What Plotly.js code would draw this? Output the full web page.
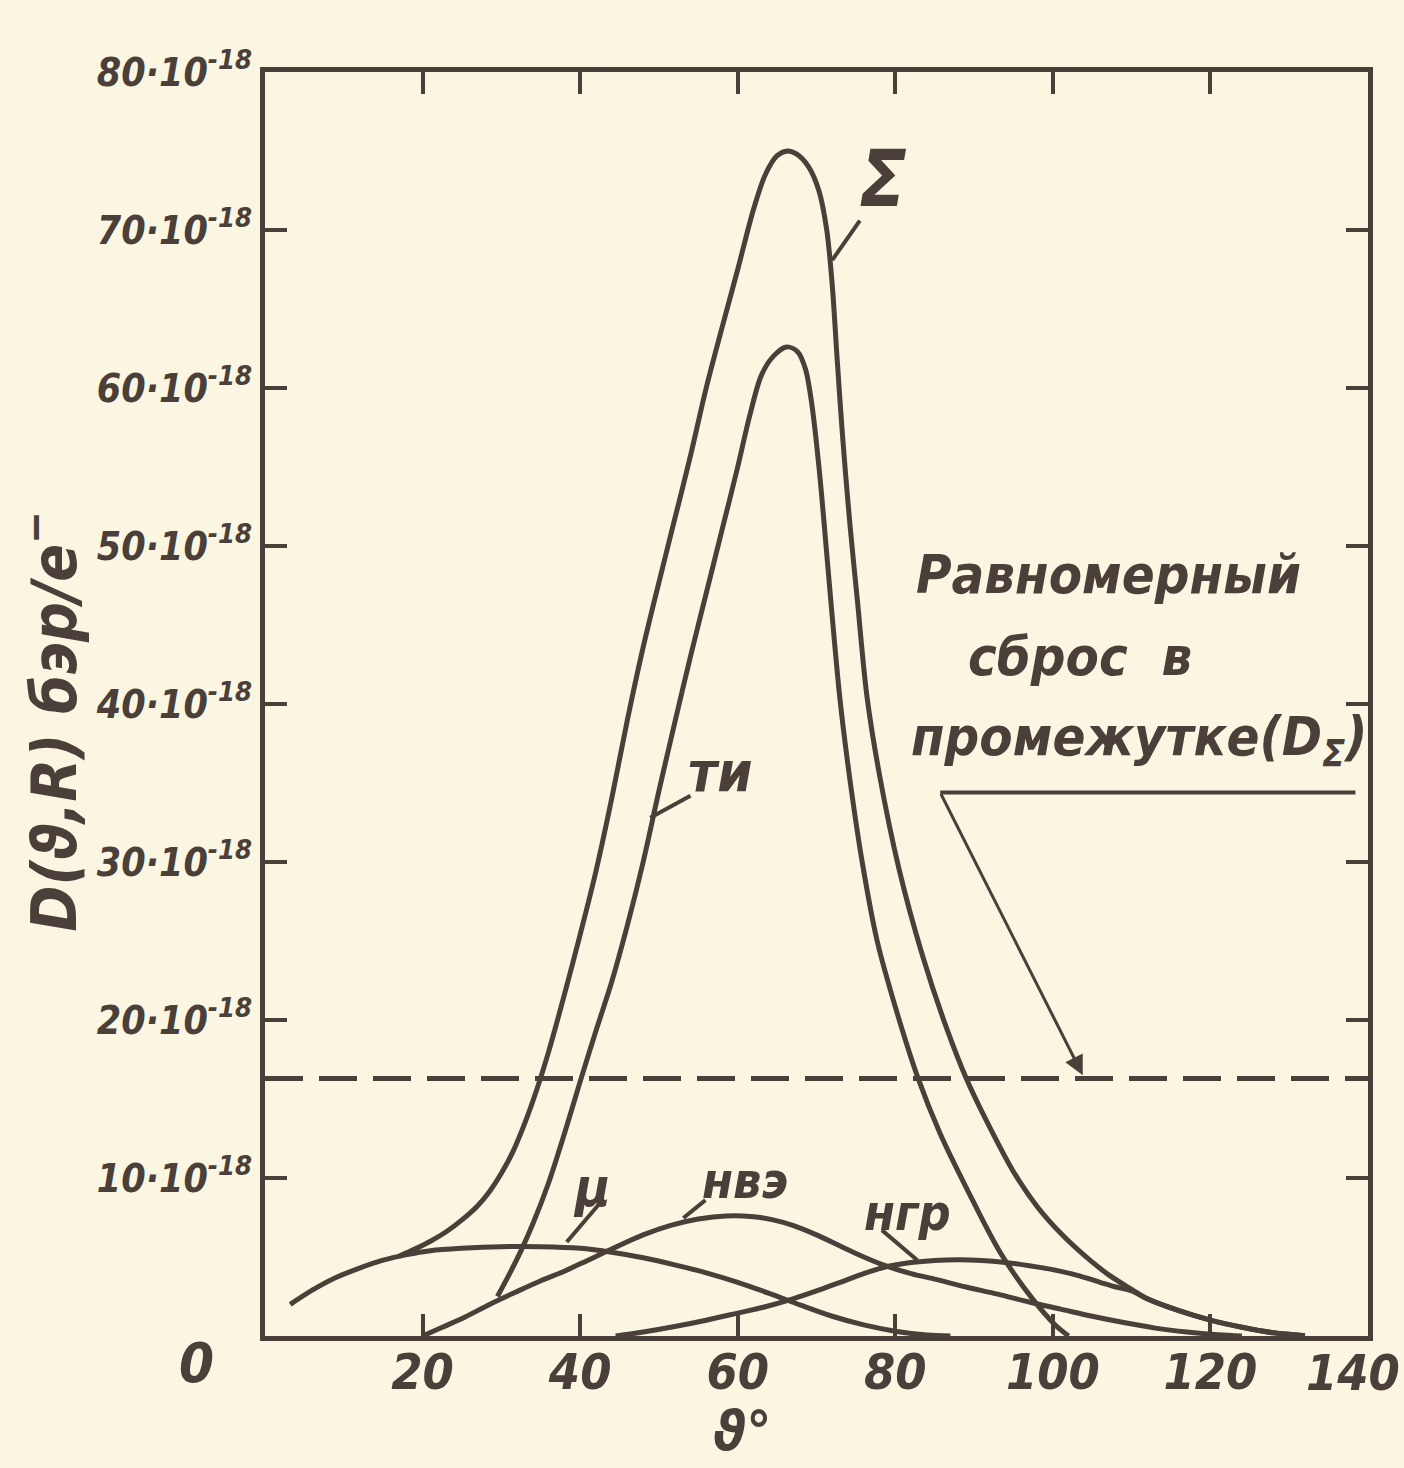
<!DOCTYPE html>
<html>
<head>
<meta charset="utf-8">
<script src="https://cdn.plot.ly/plotly-3.0.1.min.js"></script>
<style>
html,body{margin:0;padding:0;background:#FBF6E1;}
#chart{width:1404px;height:1468px;}
</style>
</head>
<body>
<div id="chart"></div>
<script>
// ---- data (angle θ in degrees, dose in units of 1e-18 бэр/e-) ----
const sigmaTheta = [17,19,21,23,25,27,28.5,30,31.5,33,34.5,36,38,40,42,44,46,48,50,52,54,56,58,60,62,63.5,65,66.3,67.5,69,70.3,71.3,72,72.6,73.3,74.2,75.2,76.4,78,80.5,83.5,86.5,89.1,92,95,98,101,104,107,110,112,116,120,124,128,132];
const sigmaDose  = [5.05,5.5,6.0,6.6,7.35,8.25,9.15,10.3,11.7,13.5,15.6,18.0,21.6,25.4,29.4,34.0,39.0,43.6,47.7,51.7,55.7,60.0,63.8,67.5,71.3,73.5,74.7,75.0,74.8,74.0,72.5,70.0,66.5,62.0,57.0,51.6,46.5,40.5,35.5,29.5,24.0,19.5,16.2,13.2,10.4,8.2,6.5,5.1,3.9,2.95,2.35,1.6,1.0,0.55,0.2,0.02];

const tiTheta = [29.5,31,32.5,34,36,38,40,42,44,46,48,50,52,54,56,58,60,61.5,63,64.5,66.2,67.6,68.6,69.4,70,70.6,71.3,72,73,74.3,75.8,77.7,80.2,82.9,85.7,89.1,93.3,97.5,100.3,102];
const tiDose  = [2.5,3.9,5.4,7.1,9.7,12.8,16.1,19.3,22.4,26.0,30.0,34.5,38.8,43.0,47.0,51.0,55.0,58.2,60.8,62.0,62.6,62.3,61.2,59.0,56.5,53.5,49.5,45.5,40.2,35.0,30.0,25.0,20.5,16.3,12.8,9.3,5.3,2.3,0.7,0];

const muTheta = [3.2,6,9,12,15,18,21,25,30,35,40,44,48,52,56,60,64,68,72,76,80,84,87];
const muDose  = [2.0,2.9,3.7,4.3,4.8,5.15,5.4,5.55,5.65,5.65,5.55,5.3,4.95,4.5,4.0,3.4,2.7,1.95,1.25,0.7,0.3,0.06,0];

const nveTheta = [20,22.5,25.4,28.5,31.7,35,38,41,44.4,48,51.5,55,58.5,62,64.5,67,70,73,76,79,82,85,89,93,97,101,105,109,113,117,121,124];
const nveDose  = [0,0.55,1.2,2.0,2.75,3.5,4.1,4.8,5.6,6.4,7.0,7.4,7.6,7.55,7.35,7.0,6.4,5.7,5.0,4.4,3.95,3.6,3.1,2.65,2.15,1.7,1.25,0.85,0.5,0.25,0.08,0];

const ngrTheta = [44.5,48,52,56,60,63.5,67,70,73,76,79,82,85,88,91,94,97,100,103,106,108,110,112,116,120,124,128,132];
const ngrDose  = [0,0.25,0.6,1.0,1.45,1.85,2.35,2.85,3.4,3.95,4.4,4.65,4.78,4.82,4.78,4.65,4.45,4.2,3.85,3.4,3.1,2.85,2.35,1.6,1.0,0.55,0.2,0.02];

const uniformDose = 16.3;           // равномерный сброс D_Σ
const uniformTheta = [0, 140];

const xTickVals = [20,40,60,80,100,120,140];
const xTickText = ["20","40","60","80","100","120","140"];
const yTickVals = [10,20,30,40,50,60,70,80];
const yTickText = yTickVals.map(v => v + "·10<sup>-18</sup>");

// ---- style ----
const INK = "#4a3f39";
const BG = "#FBF6E1";
const FONT = "'DejaVu Sans Condensed', 'DejaVu Sans', sans-serif";
const f = (size) => ({family: FONT, size: size, color: INK, weight: 700, style: "italic"});

function curve(x, y) {
  return {x: x, y: y, type: "scatter", mode: "lines",
          line: {color: INK, width: 5, shape: "spline", smoothing: 0.9},
          hoverinfo: "skip", showlegend: false};
}

const traces = [
  curve(sigmaTheta, sigmaDose),
  curve(tiTheta, tiDose),
  curve(muTheta, muDose),
  curve(nveTheta, nveDose),
  curve(ngrTheta, ngrDose),
  {x: uniformTheta, y: [uniformDose, uniformDose], type: "scatter", mode: "lines",
   line: {color: INK, width: 5, dash: "38px,16px"}, hoverinfo: "skip", showlegend: false}
];

function seg(x0, y0, x1, y1, w) {
  return {type: "line", xref: "x", yref: "y", x0: x0, y0: y0, x1: x1, y1: y1,
          line: {color: INK, width: w || 4}};
}

const shapes = [
  seg(72.0, 68.1, 75.5, 70.6),      // Σ leader
  seg(48.9, 32.8, 54.0, 34.2),      // ти leader
  seg(38.3, 5.95, 42.5, 8.4),       // μ leader
  seg(53.1, 7.47, 55.9, 8.6),       // нвэ leader
  seg(78.3, 6.7, 82.8, 4.8),        // нгр leader
  seg(85.7, 34.4, 138.4, 34.4, 4)   // underline of the note
];

function lab(text, x, y, size) {
  return {text: text, x: x, y: y, xref: "x", yref: "y", showarrow: false,
          font: f(size), xanchor: "center", yanchor: "middle"};
}

// last x tick label is drawn as an annotation so it is not cut by the page edge
const lastIdx = xTickVals.length - 1;
const shownXText = xTickText.map((t, i) => i === lastIdx ? "" : t);

const annotations = [
  lab("Σ", 78.4, 73.2, 78),
  lab("ти", 57.8, 35.7, 56),
  lab("μ", 41.5, 9.4, 54),
  lab("нвэ", 60.9, 9.8, 50),
  lab("нгр", 81.6, 7.8, 50),
  lab("Равномерный", 107.0, 48.2, 54),
  lab("сброс  в", 103.5, 43.0, 54),
  lab("промежутке(D<sub>Σ</sub>)", 111.0, 37.7, 54),
  {text: "", x: 103.8, y: 16.5, ax: 85.7, ay: 34.4, axref: "x", ayref: "y",
   xref: "x", yref: "y", showarrow: true, arrowhead: 2, arrowsize: 1.3, arrowwidth: 3,
   arrowcolor: INK, standoff: 0},
  {text: xTickText[lastIdx], x: xTickVals[lastIdx], y: -0.029, xref: "x", yref: "paper",
   showarrow: false, font: f(50), xanchor: "right", yanchor: "middle", xshift: 34},
  {text: "0", x: -0.0617, y: -0.021, xref: "paper", yref: "paper", showarrow: false,
   font: f(56), xanchor: "center", yanchor: "middle"},
  {text: "ϑ°", x: 60.5, y: -0.075, xref: "x", yref: "paper", showarrow: false,
   font: f(56), xanchor: "center", yanchor: "middle"},
  {text: "D(ϑ,R) бэр/e<sup>−</sup>", x: -0.194, y: 0.486, xref: "paper", yref: "paper",
   showarrow: false, textangle: -90, font: f(62), xanchor: "center", yanchor: "middle"}
];

const axisCommon = {
  showline: true, linewidth: 5, linecolor: INK, mirror: "allticks",
  ticks: "inside", ticklen: 22, tickwidth: 4, tickcolor: INK,
  showgrid: false, zeroline: false, fixedrange: true
};

const layout = {
  width: 1404, height: 1468,
  margin: {l: 265, r: 36, t: 72, b: 132},
  paper_bgcolor: BG, plot_bgcolor: BG,
  showlegend: false,
  xaxis: Object.assign({}, axisCommon, {
    range: [0, 140], tickmode: "array", tickvals: xTickVals, ticktext: shownXText,
    tickfont: f(50), ticklabelstandoff: -12
  }),
  yaxis: Object.assign({}, axisCommon, {
    range: [0, 80], tickmode: "array", tickvals: yTickVals, ticktext: yTickText,
    tickfont: f(39), ticklabelstandoff: 0
  }),
  shapes: shapes,
  annotations: annotations
};

Plotly.newPlot("chart", traces, layout, {staticPlot: true, displayModeBar: false});
</script>
</body>
</html>
